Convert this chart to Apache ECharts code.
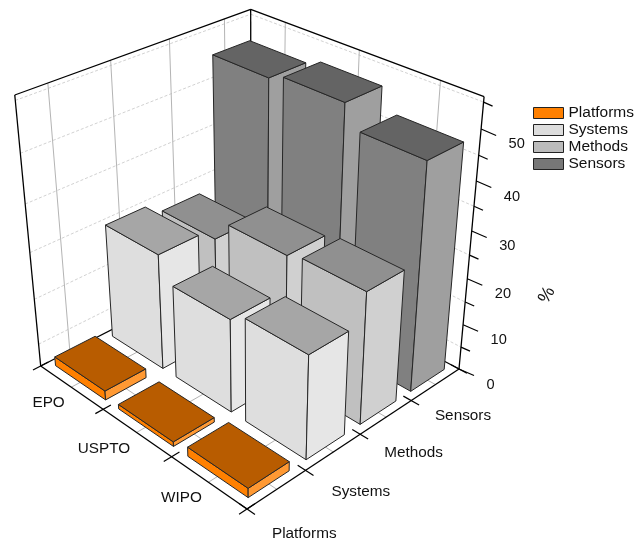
<!DOCTYPE html>
<html><head><meta charset="utf-8">
<style>html,body{margin:0;padding:0;background:#fff}#c{width:644px;height:540px}</style>
<script src="https://cdn.jsdelivr.net/npm/echarts@6/dist/echarts.min.js"></script>
</head><body><div id="c"></div>
<script>
// ---- data ----
const offices = ['EPO', 'USPTO', 'WIPO'];
const topics = ['Platforms', 'Systems', 'Methods', 'Sensors'];
const platforms = [2, 1, 2];
const systems = [25, 20, 22];
const methods = [22.5, 27, 28];
const sensors = [50.7, 52, 47.6];
const zTicks = [0, 10, 20, 30, 40, 50];
const zTop = 56;

const seriesValues = [platforms, systems, methods, sensors];
const FONT = '"Liberation Sans", Arial, sans-serif';
const faces = [
  {top:'#B85C00', front:'#FF8000', side:'#FF9933', legend:'#FF8000'},
  {top:'#A6A6A6', front:'#DEDEDE', side:'#E6E6E6', legend:'#DDDDDD'},
  {top:'#909090', front:'#C0C0C0', side:'#D0D0D0', legend:'#BBBBBB'},
  {top:'#646464', front:'#808080', side:'#9F9F9F', legend:'#777777'}
];
// ---- projection: floor homography + vertical vanishing point ----
const L=[40.7,366],F=[247,509],R=[459,369],B=[251,258.3],TB=[251,9.3],VZ=[254,2595];
const H=(function(){
  const dx1=F[0]-R[0],dx2=B[0]-R[0],sx=L[0]-F[0]+R[0]-B[0];
  const dy1=F[1]-R[1],dy2=B[1]-R[1],sy=L[1]-F[1]+R[1]-B[1];
  const d=dx1*dy2-dx2*dy1;
  const g=(sx*dy2-dx2*sy)/d,h=(dx1*sy-sx*dy1)/d;
  return [F[0]-L[0]+g*F[0],B[0]-L[0]+h*B[0],L[0],
          F[1]-L[1]+g*F[1],B[1]-L[1]+h*B[1],L[1],
          g,h,1];
})();
const bh=H[4]+H[5],bs=H[7]+H[8];
const kz=bs*(bh/bs-TB[1])/(TB[1]-VZ[1]);
function proj(a,b,z){
  const s=a/offices.length,t=b/topics.length,w=z/zTop;
  const X=H[0]*s+H[1]*t+H[2]+w*kz*VZ[0];
  const Y=H[3]*s+H[4]*t+H[5]+w*kz*VZ[1];
  const W=H[6]*s+H[7]*t+H[8]+w*kz;
  return [X/W,Y/W];
}
const BAR_A=0.1,BAR_B=0.15;
function line(api,p,q,stroke,width,dash){
  const a=api.coord(p),c=api.coord(q);
  return {type:'line',silent:true,shape:{x1:a[0],y1:a[1],x2:c[0],y2:c[1]},
    style:{stroke:stroke,lineWidth:width,lineDash:dash||null}};
}
function text(api,p,str,align,size,rot){
  const c=api.coord(p);
  return {type:'text',silent:true,x:c[0],y:c[1],rotation:rot||0,
    style:{text:str,x:0,y:0,align:align,verticalAlign:'middle',fill:'#111',font:size+'px '+FONT}};
}
function renderFrame(params,api){
  const n=offices.length,m=topics.length,ch=[];
  const grid='#B4B4B4',dashC='#D2D2D2',ax='#000';
  zTicks.forEach(function(t){
    const z=t+5;
    ch.push(line(api,proj(0,0,z),proj(0,m,z),dashC,1,[3,2]));
    ch.push(line(api,proj(0,m,z),proj(n,m,z),dashC,1,[3,2]));
  });
  for(let i=0;i<n;i++){
    ch.push(line(api,proj(i+.5,m,zTop),proj(i+.5,m,0),grid,1));
    ch.push(line(api,proj(i+.5,m,0),proj(i+.5,0,0),grid,1));
  }
  for(let j=0;j<m;j++){
    ch.push(line(api,proj(0,j+.5,zTop),proj(0,j+.5,0),grid,1));
    ch.push(line(api,proj(0,j+.5,0),proj(n,j+.5,0),grid,1));
  }
  [[[0,0,0],[0,0,zTop]],[[0,0,zTop],[0,m,zTop]],[[0,m,zTop],[n,m,zTop]],[[n,m,zTop],[n,m,0]],
   [[0,m,zTop],[0,m,0]],[[0,0,0],[0,m,0]],[[0,m,0],[n,m,0]],[[0,0,0],[n,0,0]],[[n,0,0],[n,m,0]]]
   .forEach(function(e){ch.push(line(api,proj.apply(null,e[0]),proj.apply(null,e[1]),ax,1.3));});
  for(let i=0;i<=n;i++){
    ch.push(line(api,proj(i,-.13,0),proj(i,.13,0),ax,1.2));
    if(i<n){const p=proj(i+.5,0,0);ch.push(text(api,[p[0]-6.5,p[1]+16],offices[i],'right',15.3));}
  }
  for(let j=0;j<=m;j++){
    ch.push(line(api,proj(n-.1,j,0),proj(n+.1,j,0),ax,1.2));
    if(j<m){const p=proj(n,j+.5,0);ch.push(text(api,[p[0]+27.5,p[1]+44.5-4.4*j],topics[j],'center',15.3));}
  }
  for(let z=0;z<zTop;z+=5){
    const p=proj(n,m,z),major=z%10===0;
    ch.push(line(api,p,[p[0]+(major?15:9),p[1]+(major?6.5:4)],ax,1.2));
  }
  zTicks.forEach(function(z){
    const p=proj(n,m,z);
    ch.push(text(api,[p[0]+27.5,p[1]+15.5],String(z),'left',14.6));
  });
  ch.push(text(api,[547,295],'%','center',18,1.05));
  return {type:'group',children:ch};
}
function makeBar(j){
  return function(params,api){
    const i=api.value(0),v=api.value(1),f=faces[j];
    const a0=i+BAR_A,a1=i+1-BAR_A,b0=j+BAR_B,b1=j+1-BAR_B;
    const pg=function(pts,fill){
      return {type:'polygon',silent:true,shape:{points:pts.map(function(p){return api.coord(proj(p[0],p[1],p[2]));})},
        style:{fill:fill,stroke:'#262626',lineWidth:1,lineJoin:'round'}};
    };
    return {type:'group',children:[
      pg([[a0,b0,0],[a1,b0,0],[a1,b0,v],[a0,b0,v]],f.front),
      pg([[a1,b0,0],[a1,b1,0],[a1,b1,v],[a1,b0,v]],f.side),
      pg([[a0,b0,v],[a1,b0,v],[a1,b1,v],[a0,b1,v]],f.top)
    ]};
  };
}
const series=[{type:'custom',name:'frame',coordinateSystem:'cartesian2d',silent:true,clip:false,z:1,
  renderItem:renderFrame,data:[[0,0]],animation:false}];
for(let j=topics.length-1;j>=0;j--){
  series.push({type:'custom',name:topics[j],coordinateSystem:'cartesian2d',silent:true,clip:false,z:2,
    itemStyle:{color:faces[j].legend},renderItem:makeBar(j),animation:false,
    encode:{x:0,y:1},data:seriesValues[j].map(function(v,i){return [i,v];})});
}
const chart=echarts.init(document.getElementById('c'),null,{renderer:'canvas'});
chart.setOption({
  animation:false,backgroundColor:'#fff',tooltip:{show:false},
  grid:{left:0,right:0,top:0,bottom:0,containLabel:false},
  xAxis:{type:'value',min:0,max:644,show:false},
  yAxis:{type:'value',min:0,max:540,inverse:true,show:false},
  legend:{orient:'vertical',left:533,top:105,padding:0,itemWidth:30,itemHeight:11,itemGap:1,
    selectedMode:false,icon:'rect',
    textStyle:{fontFamily:FONT,fontSize:15.5,color:'#111'},
    data:topics.map(function(t,j){return {name:t,itemStyle:{color:faces[j].legend,borderColor:'#222',borderWidth:1}};})},
  series:series
});
</script></body></html>
